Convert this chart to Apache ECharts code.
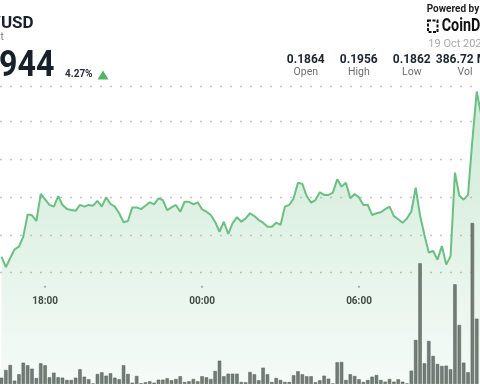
<!DOCTYPE html>
<html><head><meta charset="utf-8">
<script src="https://cdn.jsdelivr.net/npm/echarts@6/dist/echarts.min.js"></script>
<style>html,body{margin:0;padding:0;background:#fff;overflow:hidden}#c{width:480px;height:384px}</style>
</head><body><div id="c"></div>
<script>
// 10-minute candles, local time
const times = ['16:20','16:30','16:40','16:50','17:00','17:10','17:20','17:30','17:40','17:50',
'18:00','18:10','18:20','18:30','18:40','18:50','19:00','19:10','19:20','19:30','19:40','19:50',
'20:00','20:10','20:20','20:30','20:40','20:50','21:00','21:10','21:20','21:30','21:40','21:50',
'22:00','22:10','22:20','22:30','22:40','22:50','23:00','23:10','23:20','23:30','23:40','23:50',
'00:00','00:10','00:20','00:30','00:40','00:50','01:00','01:10','01:20','01:30','01:40','01:50',
'02:00','02:10','02:20','02:30','02:40','02:50','03:00','03:10','03:20','03:30','03:40','03:50',
'04:00','04:10','04:20','04:30','04:40','04:50','05:00','05:10','05:20','05:30','05:40','05:50',
'06:00','06:10','06:20','06:30','06:40','06:50','07:00','07:10','07:20','07:30','07:40','07:50',
'08:00','08:10','08:20','08:30','08:40','08:50','09:00','09:10','09:20','09:30','09:40','09:50',
'10:00','10:10','10:20','10:30','10:40'];
// DOGE/USD price
const prices = [0.18685,0.18629,0.18678,0.18724,0.18738,0.18791,0.18909,0.18904,0.18874,0.19017,
0.18989,0.18959,0.18950,0.19006,0.18959,0.18937,0.18932,0.18928,0.18959,0.18950,
0.18959,0.18955,0.18980,0.18950,0.18999,0.18964,0.18950,0.18915,0.18867,0.18874,
0.18946,0.18946,0.18937,0.18955,0.18973,0.18962,0.18994,0.18985,0.18932,0.18946,
0.18959,0.18923,0.18976,0.18976,0.18962,0.18973,0.18936,0.18923,0.18906,0.18869,
0.18817,0.18870,0.18805,0.18862,0.18894,0.18870,0.18888,0.18915,0.18900,0.18879,
0.18865,0.18844,0.18844,0.18865,0.18853,0.18950,0.18959,0.18994,0.19077,0.19070,
0.19006,0.18971,0.18985,0.19026,0.19012,0.19012,0.19024,0.19095,0.19056,0.19077,
0.18994,0.19017,0.18999,0.18959,0.18959,0.18906,0.18915,0.18920,0.18937,0.18950,
0.18900,0.18883,0.18865,0.18888,0.18924,0.19051,0.18903,0.18800,0.18707,0.18715,
0.18669,0.18741,0.18643,0.18688,0.19130,0.19009,0.18987,0.19012,0.19303,0.19560,
0.19440];
// volume (millions) per 10-minute candle
const volumes = [0.63,1.4,1.9,0.33,0.97,2.13,1.87,1.53,0.6,2.07,
1.87,0.67,1.13,0.67,0.63,0.4,0.4,0.63,1.47,0.73,
0.47,0.05,1.0,1.17,0.83,1.07,0.63,0.47,1.87,1.0,
0.13,0.8,0.07,0.17,0.27,0.13,0.43,0.43,0.57,0.37,
0.5,0.77,0.2,0.27,0.5,0.27,0.77,0.67,0.5,1.3,
2.33,0.77,1.03,1.03,1.03,0.2,0.17,1.2,0.97,0.37,
1.63,0.97,0.2,0.6,0.4,0.2,0.2,0.87,1.27,0.97,
0.77,0.77,0.17,0.37,0.83,0.53,0.03,2.17,2.2,0.4,
0.97,0.8,0.47,0.2,0.4,0.73,0.9,0.4,0.23,0.5,
0.23,0.47,0.23,0.05,1.33,4.4,12.07,2.07,4.3,2.8,
2.0,1.8,1.83,1.47,9.97,5.9,2.13,1.17,16.1,6.53];
const xTickValues = [18, 24, 30];
const xTickLabels = ['18:00', '00:00', '06:00'];
const headerPair = 'DOGE/USD';
const headerSub = 'Spot';
const headerPrice = '0.1944';
const headerChange = '4.27%';
const statValues = ['0.1864', '0.1956', '0.1862', '386.72 M'];
const statLabels = ['Open', 'High', 'Low', 'Vol'];
const headerDate = '19 Oct 2025';

function toHours(t) { const p = t.split(':').map(Number); let v = p[0] + p[1] / 60; if (v < 12) v += 24; return v; }

const X_MIN = 16.276, X_MAX = 34.6246;
const chart = echarts.init(document.getElementById('c'), null, { renderer: 'canvas' });
const F = 'Roboto, "Noto Sans", sans-serif';
const statX = [305.8, 358.8, 411.8, 465];
const statValX = [305.8, 358.8, 411.8, 461.5];
const graphic = [
  { type: 'text', x: 33.6, y: 23.8, style: { text: headerPair, fontFamily: F, fontWeight: 'bold', fontSize: 17, fill: '#18202c', align: 'right', verticalAlign: 'middle' } },
  { type: 'text', x: 3.8, y: 37, style: { text: headerSub, fontFamily: F, fontSize: 10, fill: '#777', align: 'right', verticalAlign: 'middle' } },
  { type: 'text', x: 54.5, y: 66.5, scaleX: 0.87, style: { text: headerPrice, fontFamily: F, fontWeight: 'bold', fontSize: 37, fill: '#18202c', align: 'right', verticalAlign: 'middle' } },
  { type: 'text', x: 65, y: 74, style: { text: headerChange, fontFamily: F, fontWeight: 'bold', fontSize: 10, fill: '#2a2f3a', align: 'left', verticalAlign: 'middle' } },
  { type: 'polygon', shape: { points: [[97.5, 79.5], [108.5, 79.5], [103, 70.5]] }, style: { fill: '#52b563' } },
  { type: 'text', x: 426.7, y: 9, style: { text: 'Powered by', fontFamily: F, fontWeight: 'bold', fontSize: 10, fill: '#222', align: 'left', verticalAlign: 'middle' } },
  { type: 'rect', shape: { x: 428, y: 20.5, width: 9.5, height: 11.5 }, style: { fill: 'none', stroke: '#111', lineWidth: 2, lineDash: [3, 1.5] } },
  { type: 'text', x: 441.7, y: 26.5, scaleX: 0.82, style: { text: 'CoinDesk', fontFamily: F, fontWeight: 'bold', fontSize: 17.5, fill: '#111', align: 'left', verticalAlign: 'middle' } },
  { type: 'text', x: 428.3, y: 44.7, style: { text: headerDate, fontFamily: F, fontSize: 11, fill: '#aaa', align: 'left', verticalAlign: 'middle' } }
];
statValues.forEach((v, i) => {
  graphic.push({ type: 'text', x: statValX[i], y: 60, style: { text: v, fontFamily: F, fontWeight: 'bold', fontSize: 12, fill: '#1e2530', align: 'center', verticalAlign: 'middle' } });
  graphic.push({ type: 'text', x: statX[i], y: 72.5, style: { text: statLabels[i], fontFamily: F, fontSize: 10.5, fill: '#6f6f6f', align: 'center', verticalAlign: 'middle' } });
});

const option = {
  animation: false,
  backgroundColor: '#fff',
  grid: [
    { left: 0, right: 0, top: 85.84, height: 186.86 },
    { left: 0, right: 0, top: 84, height: 300 }
  ],
  xAxis: [
    { type: 'value', gridIndex: 0, min: X_MIN, max: X_MAX, offset: 13,
      axisLine: { show: false },
      axisTick: { show: true, customValues: xTickValues, length: 2, lineStyle: { color: '#999', width: 1.5 } },
      axisLabel: { customValues: xTickValues, margin: 11, fontFamily: F, fontWeight: 'bold', fontSize: 10, color: '#3a3a3a',
        formatter: v => { const i = xTickValues.indexOf(Math.round(v)); return i >= 0 ? xTickLabels[i] : ''; } },
      splitLine: { show: false } },
    { type: 'value', gridIndex: 1, min: X_MIN, max: X_MAX, show: false, splitLine: { show: false } }
  ],
  yAxis: [
    { type: 'value', gridIndex: 0, min: 0.186, max: 0.1959, interval: 0.002,
      axisLine: { show: false }, axisTick: { show: false }, axisLabel: { show: false },
      splitLine: { show: true, lineStyle: { color: '#c4c4c4', width: 1.3, type: [2, 8] } } },
    { type: 'value', gridIndex: 1, min: 0, max: 30, show: false, splitLine: { show: false } }
  ],
  series: [
    { type: 'line', xAxisIndex: 0, yAxisIndex: 0, z: 2, clip: false, showSymbol: false,
      data: times.map((t, i) => [toHours(t), prices[i]]),
      lineStyle: { color: '#6bbf83', width: 2 },
      areaStyle: { origin: 0.178, color: new echarts.graphic.LinearGradient(0, 0, 0, 1, [
        { offset: 0, color: 'rgba(100,188,125,0.45)' }, { offset: 1, color: 'rgba(100,188,125,0.04)' }]) } },
    { type: 'bar', xAxisIndex: 1, yAxisIndex: 1, z: 3, barWidth: 3.4,
      data: volumes.map((v, i) => [toHours(times[i]), v]),
      itemStyle: { color: '#737d75', borderColor: '#505a53', borderWidth: 0.5 } }
  ],
  graphic: graphic
};
chart.setOption(option);
</script>
</body></html>
